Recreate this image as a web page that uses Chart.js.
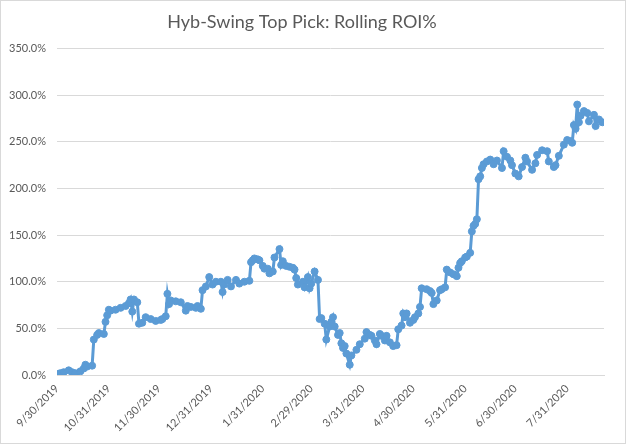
<!DOCTYPE html>
<html>
<head>
<meta charset="utf-8">
<script src="https://cdn.jsdelivr.net/npm/chart.js@4.4.1/dist/chart.umd.min.js"></script>
<style>
  html, body { margin: 0; padding: 0; background: #fff; }
  #wrap { width: 626px; height: 444px; position: relative; }
</style>
</head>
<body>
<div id="wrap"><canvas id="myChart" width="626" height="444"></canvas></div>
<script>
// data
var dates = [
  '9/30/2019','10/2/2019','10/4/2019','10/7/2019','10/9/2019','10/11/2019','10/14/2019','10/16/2019','10/17/2019','10/18/2019',
  '10/21/2019','10/22/2019','10/24/2019','10/25/2019','10/28/2019','10/29/2019','10/30/2019','10/31/2019','11/1/2019','11/4/2019',
  '11/7/2019','11/10/2019','11/12/2019','11/13/2019','11/14/2019','11/15/2019','11/17/2019','11/18/2019','11/20/2019','11/22/2019',
  '11/25/2019','11/28/2019','12/1/2019','12/2/2019','12/4/2019','12/5/2019','12/6/2019','12/7/2019','12/10/2019','12/13/2019',
  '12/16/2019','12/17/2019','12/19/2019','12/22/2019','12/23/2019','12/25/2019','12/26/2019','12/28/2019','12/30/2019','1/1/2020',
  '1/3/2020','1/6/2020','1/7/2020','1/8/2020','1/10/2020','1/12/2020','1/15/2020','1/17/2020','1/20/2020','1/23/2020',
  '1/24/2020','1/25/2020','1/26/2020','1/28/2020','1/29/2020','1/31/2020','2/1/2020','2/3/2020','2/4/2020','2/6/2020',
  '2/7/2020','2/10/2020','2/11/2020','2/12/2020','2/14/2020','2/16/2020','2/18/2020','2/19/2020','2/20/2020','2/21/2020',
  '2/24/2020','2/25/2020','2/27/2020','2/28/2020','2/29/2020','3/2/2020','3/4/2020','3/5/2020','3/6/2020','3/8/2020',
  '3/9/2020','3/11/2020','3/12/2020','3/13/2020','3/14/2020','3/16/2020','3/17/2020','3/18/2020','3/19/2020','3/20/2020',
  '3/21/2020','3/23/2020','3/24/2020','3/27/2020','3/29/2020','4/1/2020','4/2/2020','4/4/2020','4/5/2020','4/7/2020',
  '4/8/2020','4/10/2020','4/11/2020','4/13/2020','4/14/2020','4/16/2020','4/18/2020','4/20/2020','4/21/2020','4/23/2020',
  '4/24/2020','4/25/2020','4/26/2020','4/28/2020','4/30/2020','5/1/2020','5/3/2020','5/4/2020','5/5/2020','5/8/2020',
  '5/10/2020','5/11/2020','5/12/2020','5/14/2020','5/16/2020','5/17/2020','5/19/2020','5/20/2020','5/22/2020','5/24/2020',
  '5/26/2020','5/27/2020','5/28/2020','5/29/2020','5/31/2020','6/1/2020','6/3/2020','6/4/2020','6/5/2020','6/6/2020',
  '6/7/2020','6/8/2020','6/9/2020','6/10/2020','6/11/2020','6/13/2020','6/15/2020','6/17/2020','6/19/2020','6/22/2020',
  '6/23/2020','6/25/2020','6/27/2020','6/28/2020','6/30/2020','7/2/2020','7/4/2020','7/6/2020','7/7/2020','7/10/2020',
  '7/12/2020','7/13/2020','7/16/2020','7/19/2020','7/20/2020','7/23/2020','7/24/2020','7/26/2020','7/29/2020','7/31/2020',
  '8/2/2020','8/3/2020','8/4/2020','8/5/2020','8/6/2020','8/7/2020','8/8/2020','8/10/2020','8/12/2020','8/13/2020',
  '8/16/2020','8/17/2020','8/19/2020','8/21/2020'
];
var roi = [
  1, 2, 3, 5, 3, 2, 4, 7, 11, 9,
  10, 38, 43, 45, 44, 57, 64, 70, 69, 70,
  72, 74, 77, 81, 68, 81, 78, 55, 56, 62,
  60, 58, 59, 60, 63, 87, 76, 80, 79, 78,
  69, 74, 73, 72, 74, 71, 91, 95, 105, 97,
  100, 100, 89, 97, 102, 95, 102, 98, 100, 101,
  121, 123, 125, 124, 123, 117, 114, 114, 109, 111,
  126, 135, 118, 122, 117, 116, 115, 113, 104, 97,
  100, 94, 105, 93, 98, 111, 102, 60, 61, 55,
  38, 52, 57, 62, 52, 43, 45, 34, 29, 31,
  23, 11, 21, 27, 33, 39, 46, 43, 42, 37,
  33, 44, 42, 37, 42, 35, 31, 32, 49, 53,
  66, 62, 66, 56, 59, 62, 66, 73, 93, 92,
  90, 88, 76, 80, 91, 92, 94, 113, 110, 108,
  106, 115, 120, 122, 126, 127, 131, 154, 160, 162,
  167, 210, 213, 222, 226, 229, 231, 226, 230, 222,
  240, 234, 230, 225, 216, 213, 223, 233, 229, 220,
  227, 236, 241, 240, 229, 223, 225, 235, 247, 252,
  251, 249, 268, 264, 290, 271, 278, 283, 281, 272,
  279, 267, 274, 271
];
var tickDates = ['9/30/2019','10/31/2019','11/30/2019','12/31/2019','1/31/2020','2/29/2020','3/31/2020','4/30/2020','5/31/2020','6/30/2020','7/31/2020'];
var yTicks = [0, 50, 100, 150, 200, 250, 300, 350];

function dayNum(s) {
  var p = s.split('/').map(Number);
  return Math.round((Date.UTC(p[2], p[0] - 1, p[1]) - Date.UTC(2019, 8, 30)) / 864e5);
}

var points = [];
for (var i = 0; i < dates.length; i++) {
  points.push({x: dayNum(dates[i]), y: roi[i]});
}
var tickLabel = {};
tickDates.forEach(function(s) { tickLabel[dayNum(s)] = s; });

var grey = '#595959';
var font = {family: 'Lato, "Liberation Sans", sans-serif', size: 11};

// outer chart border like the excel frame
var frame = {
  id: 'frame',
  afterDraw: function(chart) {
    var c = chart.ctx;
    c.save();
    c.strokeStyle = '#d9d9d9';
    c.lineWidth = 1;
    c.strokeRect(0.5, 0.5, chart.width - 1, chart.height - 1);
    c.restore();
  }
};

var ctx = document.getElementById('myChart').getContext('2d');
var myChart = new Chart(ctx, {
  type: 'line',
  data: {
    datasets: [{
      label: 'Rolling ROI%',
      data: points,
      borderColor: '#5b9bd5',
      backgroundColor: '#5b9bd5',
      borderWidth: 3,
      pointRadius: 3.5,
      pointBorderWidth: 1,
      pointBackgroundColor: '#5b9bd5',
      pointBorderColor: '#5b9bd5',
      tension: 0
    }]
  },
  options: {
    responsive: false,
    animation: false,
    layout: {padding: {left: 0, right: 22, top: 0, bottom: 0}},
    plugins: {
      legend: {display: false},
      tooltip: {enabled: false},
      title: {
        display: true,
        text: 'Hyb-Swing Top Pick: Rolling ROI%',
        color: grey,
        font: {family: 'Lato, "Liberation Sans", sans-serif', size: 18, weight: 'normal'},
        padding: {top: 11, bottom: 16}
      }
    },
    scales: {
      x: {
        type: 'linear',
        min: 0,
        max: 327,
        afterBuildTicks: function(scale) {
          scale.ticks = tickDates.map(function(s) { return {value: dayNum(s)}; });
        },
        afterFit: function(scale) { scale.height = 69; },
        grid: {display: false, drawTicks: false},
        border: {display: true, color: '#d9d9d9', width: 1},
        ticks: {
          color: grey,
          font: font,
          padding: 7,
          minRotation: 45,
          maxRotation: 45,
          autoSkip: false,
          callback: function(v) { return tickLabel[v] || ''; }
        }
      },
      y: {
        min: 0,
        max: 350,
        afterBuildTicks: function(scale) {
          scale.ticks = yTicks.map(function(v) { return {value: v}; });
        },
        afterFit: function(scale) { scale.width = 57; },
        grid: {color: '#d9d9d9', drawTicks: false},
        border: {display: false},
        ticks: {
          color: grey,
          font: font,
          padding: 11,
          callback: function(v) { return v.toFixed(1) + '%'; }
        }
      }
    }
  },
  plugins: [frame]
});
</script>
</body>
</html>
